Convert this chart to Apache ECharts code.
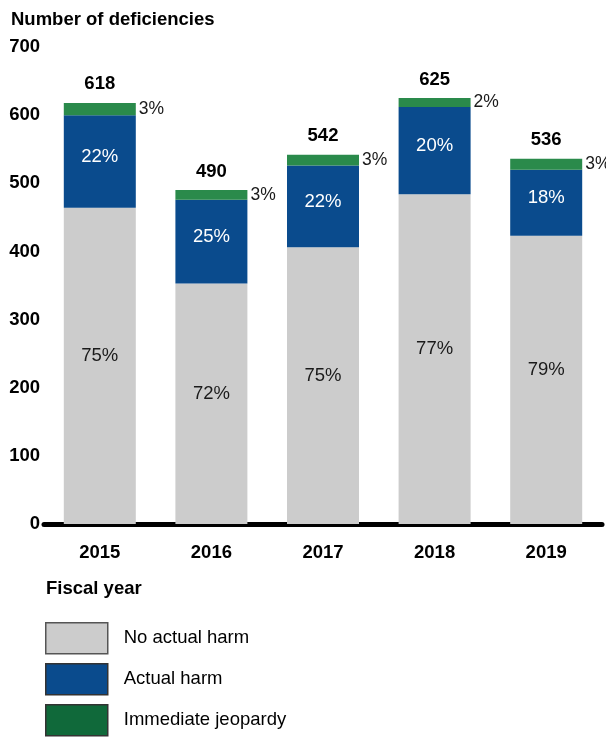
<!DOCTYPE html>
<html>
<head>
<meta charset="utf-8">
<script src="https://cdn.jsdelivr.net/npm/echarts@6/dist/echarts.min.js"></script>
<style>
  html, body { margin: 0; padding: 0; background: #fff; }
  #chart { width: 606px; height: 737px; }
</style>
</head>
<body>
<div id="chart"></div>
<script>
// Deficiencies by fiscal year, split by severity
const years = ['2015', '2016', '2017', '2018', '2019'];
const noActualHarm = [464, 353, 406, 484, 423];
const actualHarm = [136, 123, 120, 128, 97];
const immediateJeopardy = [18, 14, 16, 13, 16];
const totals = [618, 490, 542, 625, 536];
const pctNoHarm = ['75%', '72%', '75%', '77%', '79%'];
const pctHarm = ['22%', '25%', '22%', '20%', '18%'];
const pctJeopardy = ['3%', '3%', '3%', '2%', '3%'];
const yTicks = [0, 100, 200, 300, 400, 500, 600, 700];

const FONT = 'Liberation Sans, Arial, sans-serif';
const GRAY = '#cccccc', BLUE = '#0a4b8d', GREEN = '#2a8a4b', GREEN_KEY = '#10693a';
const BOLD = 18.5, PLAIN = 18.5;

const chart = echarts.init(document.getElementById('chart'));

function seg(values, labels) {
  return values.map((v, i) => ({ value: v, labelText: labels[i] }));
}

// One legend block per severity, stacked down the left side
const legendKeys = [
  { name: 'No actual harm', color: GRAY, border: '#555', top: 622 },
  { name: 'Actual harm', color: BLUE, border: '#333', top: 663 },
  { name: 'Immediate jeopardy', color: GREEN_KEY, border: '#333', top: 704 }
];

chart.setOption({
  animation: false,
  textStyle: { fontFamily: FONT },
  grid: { left: 44, right: 4, top: 47, bottom: 213, containLabel: false },
  title: [
    { text: 'Number of deficiencies', left: 6, top: 5,
      textStyle: { fontFamily: FONT, fontSize: BOLD, fontWeight: 'bold', color: '#000' } },
    { text: 'Fiscal year', left: 41, top: 574,
      textStyle: { fontFamily: FONT, fontSize: BOLD, fontWeight: 'bold', color: '#000' } }
  ],
  legend: legendKeys.map(k => ({
    left: 45, top: k.top, padding: 0,
    itemWidth: 62, itemHeight: 31, icon: 'rect', selectedMode: false,
    textStyle: { fontFamily: FONT, fontSize: 18.5, color: '#000', padding: [0, 0, 0, 11] },
    data: [{ name: k.name, itemStyle: { color: k.color, borderColor: k.border, borderWidth: 1.5 } }]
  })),
  xAxis: {
    type: 'category', data: years,
    axisLine: { show: true, lineStyle: { color: '#000', width: 5 } },
    axisTick: { show: false },
    axisLabel: { margin: 19, fontFamily: FONT, fontSize: BOLD, fontWeight: 'bold', color: '#000' }
  },
  yAxis: {
    type: 'value', min: yTicks[0], max: yTicks[yTicks.length - 1], interval: 100,
    axisLine: { show: false }, axisTick: { show: false }, splitLine: { show: false },
    axisLabel: { margin: 4, fontFamily: FONT, fontSize: BOLD, fontWeight: 'bold', color: '#000' }
  },
  series: [
    {
      name: 'No actual harm', type: 'bar', stack: 'total', barWidth: 72,
      itemStyle: { color: GRAY },
      label: { show: true, position: 'inside', offset: [0, -10], fontFamily: FONT, fontSize: PLAIN, color: '#1a1a1a',
        formatter: p => p.data.labelText },
      data: seg(noActualHarm, pctNoHarm)
    },
    {
      name: 'Actual harm', type: 'bar', stack: 'total', barWidth: 72,
      itemStyle: { color: BLUE },
      label: { show: true, position: 'inside', offset: [0, -5], fontFamily: FONT, fontSize: PLAIN, color: '#fff',
        formatter: p => p.data.labelText },
      data: seg(actualHarm, pctHarm)
    },
    {
      name: 'Immediate jeopardy', type: 'bar', stack: 'total', barWidth: 72,
      itemStyle: { color: GREEN },
      label: { show: true, position: 'right', distance: 3, fontFamily: FONT, fontSize: PLAIN - 1, color: '#1a1a1a',
        formatter: p => p.data.labelText },
      data: seg(immediateJeopardy, pctJeopardy)
    },
    {
      name: 'Total', type: 'scatter', symbolSize: 0, silent: true,
      itemStyle: { opacity: 1 },
      label: { show: true, position: 'top', distance: 9, fontFamily: FONT, fontSize: BOLD, fontWeight: 'bold', color: '#000',
        formatter: p => String(p.value) },
      data: totals
    }
  ]
});
</script>
</body>
</html>
